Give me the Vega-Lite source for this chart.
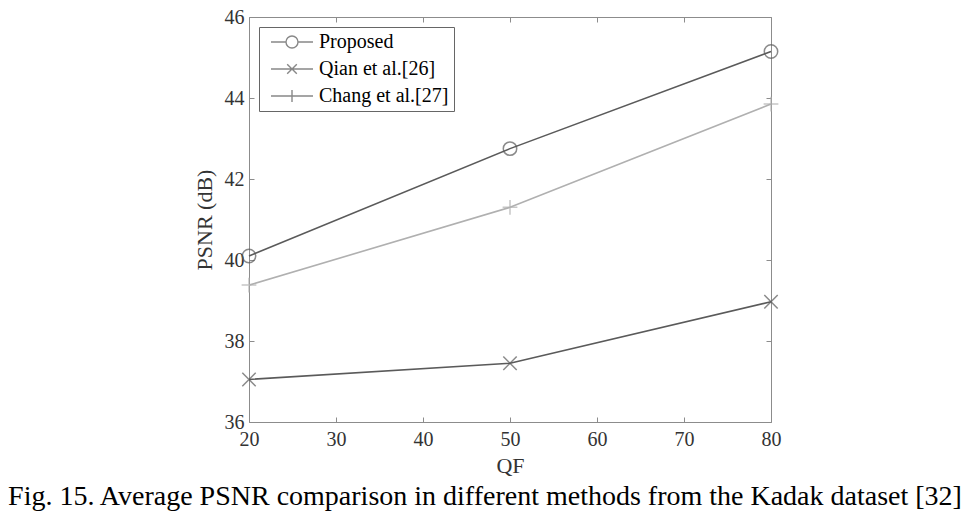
{
  "$schema": "https://vega.github.io/schema/vega-lite/v6.json",
  "width": 522,
  "height": 405,
  "autosize": {"type": "none"},
  "padding": {"left": 249, "top": 17, "right": 208, "bottom": 95},
  "background": "white",
  "config": {
    "font": "Liberation Serif",
    "view": {"stroke": "#8c8c8c", "strokeWidth": 1},
    "axis": {"labelFont": "Liberation Serif", "titleFont": "Liberation Serif", "labelFontSize": 20, "titleFontSize": 22, "labelColor": "#333", "titleColor": "#333", "titleFontWeight": "normal", "grid": false, "domain": false, "tickColor": "#8c8c8c", "tickSize": -5, "tickWidth": 1, "labelFlush": false},
    "legend": {"labelFont": "Liberation Serif", "labelFontSize": 20, "labelColor": "#000"}
  },
  "title": {
    "text": "Fig. 15. Average PSNR comparison in different methods from the Kadak dataset [32]",
    "orient": "bottom", "anchor": "middle", "frame": "group", "dx": -25,
    "fontSize": 28, "fontWeight": "normal", "color": "#000", "offset": 7, "font": "Liberation Serif"
  },
  "data": {
    "values": [
      {"QF": 20, "PSNR": 40.1, "method": "Proposed"},
      {"QF": 50, "PSNR": 42.75, "method": "Proposed"},
      {"QF": 80, "PSNR": 45.15, "method": "Proposed"},
      {"QF": 20, "PSNR": 37.05, "method": "Qian et al.[26]"},
      {"QF": 50, "PSNR": 37.45, "method": "Qian et al.[26]"},
      {"QF": 80, "PSNR": 38.97, "method": "Qian et al.[26]"},
      {"QF": 20, "PSNR": 39.38, "method": "Chang et al.[27]"},
      {"QF": 50, "PSNR": 41.3, "method": "Chang et al.[27]"},
      {"QF": 80, "PSNR": 43.85, "method": "Chang et al.[27]"}
    ]
  },
  "layer": [
    {
      "mark": {"type": "line", "strokeWidth": 1.6},
      "encoding": {
        "x": {"field": "QF", "type": "quantitative", "scale": {"domain": [20, 80], "nice": false}, "axis": {"title": "QF", "values": [20, 30, 40, 50, 60, 70, 80], "labelPadding": 12, "titlePadding": 6}},
        "y": {"field": "PSNR", "type": "quantitative", "scale": {"domain": [36, 46], "nice": false, "zero": false}, "axis": {"title": "PSNR (dB)", "values": [36, 38, 40, 42, 44, 46], "labelPadding": 10, "titlePadding": 8}},
        "color": {"field": "method", "type": "nominal", "sort": null, "scale": {"domain": ["Proposed", "Qian et al.[26]", "Chang et al.[27]"], "range": ["#5a5a5a", "#5a5a5a", "#b0b0b0"]}, "legend": null},
        "detail": {"field": "method"}
      }
    },
    {
      "mark": {"type": "point", "filled": false, "strokeWidth": 1.5, "size": 180},
      "encoding": {
        "x": {"field": "QF", "type": "quantitative", "axis": null},
        "y": {"field": "PSNR", "type": "quantitative", "axis": null},
        "color": {"field": "method", "type": "nominal", "sort": null, "scale": {"domain": ["Proposed", "Qian et al.[26]", "Chang et al.[27]"], "range": ["#5a5a5a", "#5a5a5a", "#b0b0b0"]}, "legend": null},
        "shape": {"field": "method", "type": "nominal", "sort": null, "scale": {"domain": ["Proposed", "Qian et al.[26]", "Chang et al.[27]"], "range": ["circle", "M-1,-1L1,1M-1,1L1,-1", "M-1.1,0L1.1,0M0,-1.1L0,1.1"]}, "legend": null}
      }
    },
    {
      "mark": {"type": "point", "filled": false, "opacity": 0, "strokeWidth": 1.4},
      "encoding": {
        "x": {"field": "QF", "type": "quantitative", "axis": {"orient": "top", "labels": false, "title": null, "values": [20, 30, 40, 50, 60, 70, 80]}},
        "y": {"field": "PSNR", "type": "quantitative", "axis": {"orient": "right", "labels": false, "title": null, "values": [36, 38, 40, 42, 44, 46]}},
        "color": {"field": "method", "type": "nominal", "sort": null, "scale": {"domain": ["Proposed", "Qian et al.[26]", "Chang et al.[27]"], "range": ["#5a5a5a", "#5a5a5a", "#b0b0b0"]}, "legend": {"title": null}},
        "shape": {"field": "method", "type": "nominal", "sort": null,
          "scale": {"domain": ["Proposed", "Qian et al.[26]", "Chang et al.[27]"], "range": ["M-3.5,0L-1,0M1,0L3.5,0M-1,0A1,1 0 1,0 1,0A1,1 0 1,0 -1,0", "M-3.5,0L3.5,0M-0.8,-0.8L0.8,0.8M-0.8,0.8L0.8,-0.8", "M-3.5,0L3.5,0M0,-1L0,1"]},
          "legend": {"title": null, "orient": "top-left", "offset": 10, "strokeColor": "#666", "fillColor": "white", "padding": 5, "labelFontSize": 20, "labelColor": "#000", "labelFont": "Liberation Serif", "symbolSize": 144, "symbolStrokeWidth": 1.4, "symbolOpacity": 1, "symbolOffset": 18, "labelOffset": 17, "rowPadding": 7}
        }
      }
    }
  ],
  "resolve": {"scale": {"shape": "independent"}, "axis": {"x": "independent", "y": "independent"}}
}
